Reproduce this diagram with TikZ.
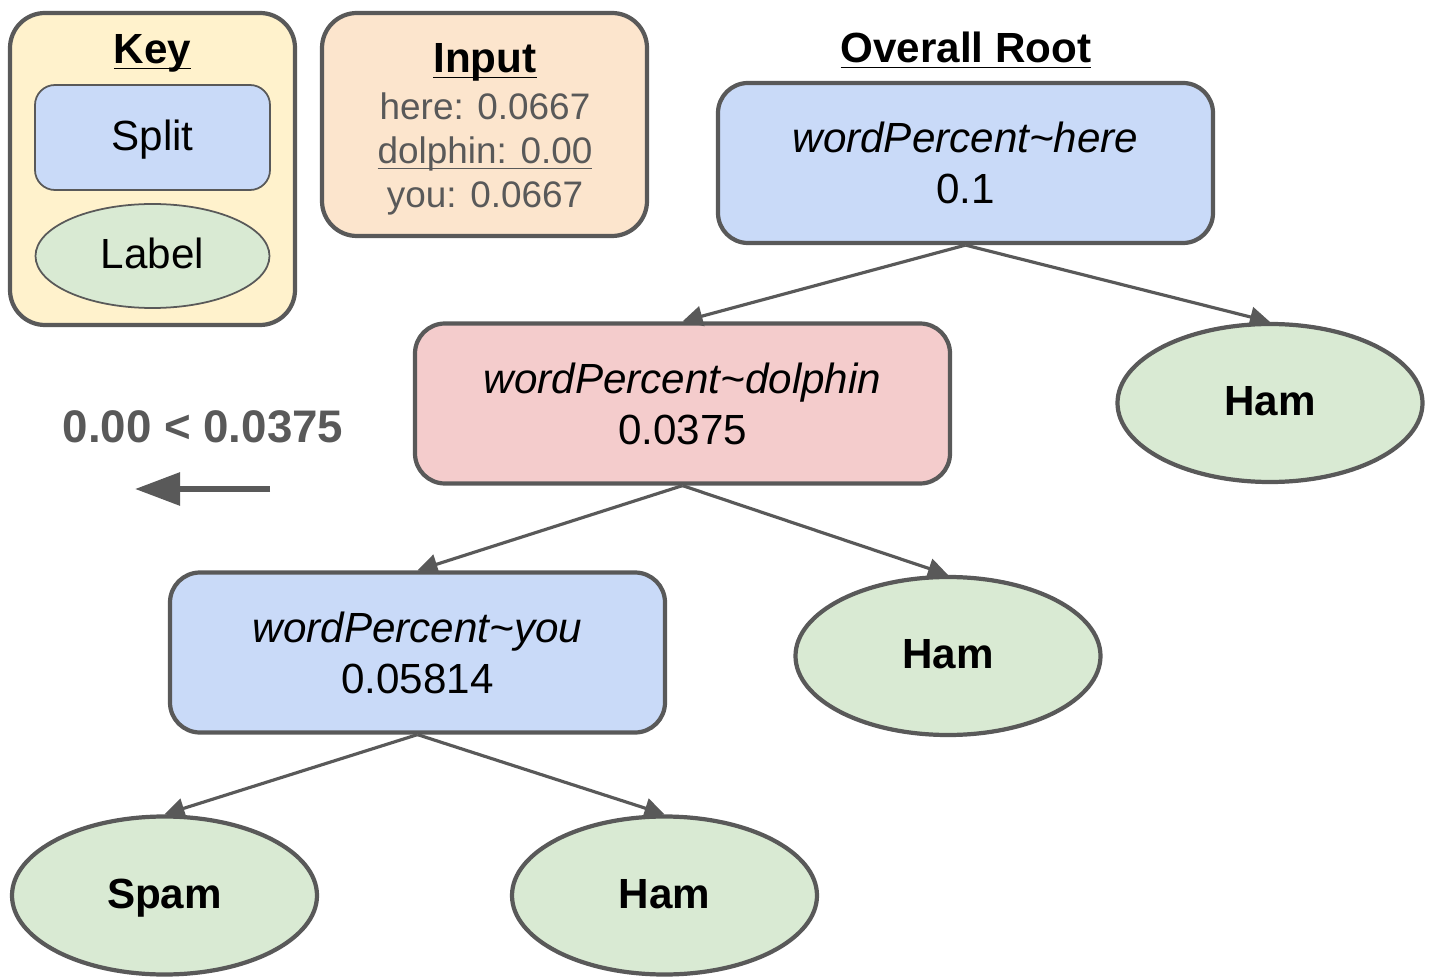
\documentclass[tikz,border=0pt]{standalone}
\usepackage{fontspec}
\setmainfont{Liberation Sans}
\usetikzlibrary{arrows.meta,shapes.geometric}

\definecolor{edgegray}{HTML}{595959}
\definecolor{splitblue}{HTML}{C9DAF8}
\definecolor{splitred}{HTML}{F4CCCC}
\definecolor{labelgreen}{HTML}{D9EAD3}
\definecolor{keyyellow}{HTML}{FFF2CC}
\definecolor{inputorange}{HTML}{FCE5CD}
\newcommand\ulined[1]{\underline{\smash{#1}}}

\tikzset{
  split/.style={draw=edgegray, line width=1.2pt, fill=splitblue, rounded corners=0.3cm,
    minimum width=4.95cm, minimum height=1.6cm, align=center, font=\fontsize{12}{14.5}\selectfont},
  leaf/.style={draw=edgegray, line width=1.2pt, fill=labelgreen, ellipse,
    minimum width=3.05cm, minimum height=1.58cm, text height=0.72em, text depth=0pt,
    font=\bfseries\fontsize{12}{14}\selectfont},
  panel/.style={draw=edgegray, line width=1.2pt, rounded corners=0.35cm},
  title/.style={font=\bfseries\fontsize{12}{14}\selectfont},
  link/.style={draw=edgegray, line width=0.9pt, -{Triangle[length=0.2cm,width=0.2cm]}},
}

\begin{document}
\begin{tikzpicture}
    \useasboundingbox (0,0) rectangle (14.37,-9.79);
    % key
    \node[panel, fill=keyyellow, minimum width=2.85cm, minimum height=3.12cm] (key) at (1.525,-1.69) {};
    \node[title] (keytitle) at (1.525,-0.67) {\ulined{Key}};
    \node[split, line width=0.5pt, rounded corners=0.2cm, minimum width=2.35cm, minimum height=1.05cm,
        text height=0.72em, text depth=0pt] (keysplit) at (1.525,-1.375) {Split};
    \node[leaf, line width=0.5pt, font=\fontsize{12}{14}\selectfont, minimum width=2.34cm, minimum height=1.04cm] (keylabel) at (1.525,-2.56) {Label};
    % input
    \node[panel, fill=inputorange, minimum width=3.25cm, minimum height=2.23cm] (input) at (4.845,-1.245) {};
    \node[title] (inputtitle) at (4.85,-0.76) {\ulined{Input}};
    \node[text=edgegray, align=center, font=\fontsize{10.5}{12.6}\selectfont] (inputvals) at (4.85,-1.54)
        {here: 0.0667\\ \ulined{dolphin: 0.00}\\ you: 0.0667};
    % tree
    \node[title] (roottitle) at (9.66,-0.66) {\ulined{Overall Root}};
    \node[split] (root) at (9.655,-1.63) {\textit{wordPercent\textasciitilde here}\\ 0.1};
    \node[split, fill=splitred, minimum width=5.35cm] (dolphin) at (6.825,-4.035) {\textit{wordPercent\textasciitilde dolphin}\\ 0.0375};
    \node[leaf] (hamA) at (12.70,-4.03) {Ham};
    \node[split] (you) at (4.175,-6.525) {\textit{wordPercent\textasciitilde you}\\ 0.05814};
    \node[leaf] (hamB) at (9.48,-6.56) {Ham};
    \node[leaf] (spam) at (1.645,-8.955) {Spam};
    \node[leaf] (hamC) at (6.645,-8.955) {Ham};
    \draw[link] (root.south) -- (dolphin.north);
    \draw[link] (root.south) -- (hamA.north);
    \draw[link] (dolphin.south) -- (you.north);
    \draw[link] (dolphin.south) -- (hamB.north);
    \draw[link] (you.south) -- (spam.north);
    \draw[link] (you.south) -- (hamC.north);
    % direction taken
    \node[text=edgegray, font=\bfseries\fontsize{13}{15}\selectfont] (lesstext) at (2.03,-4.27) {0.00 < 0.0375};
    \coordinate (lessstart) at (2.70,-4.89);
    \coordinate (lessend) at (1.35,-4.89);
    \draw[draw=edgegray, line width=1.7pt, -{Triangle[length=0.45cm,width=0.32cm]}] (lessstart) -- (lessend);
\end{tikzpicture}
\end{document}
